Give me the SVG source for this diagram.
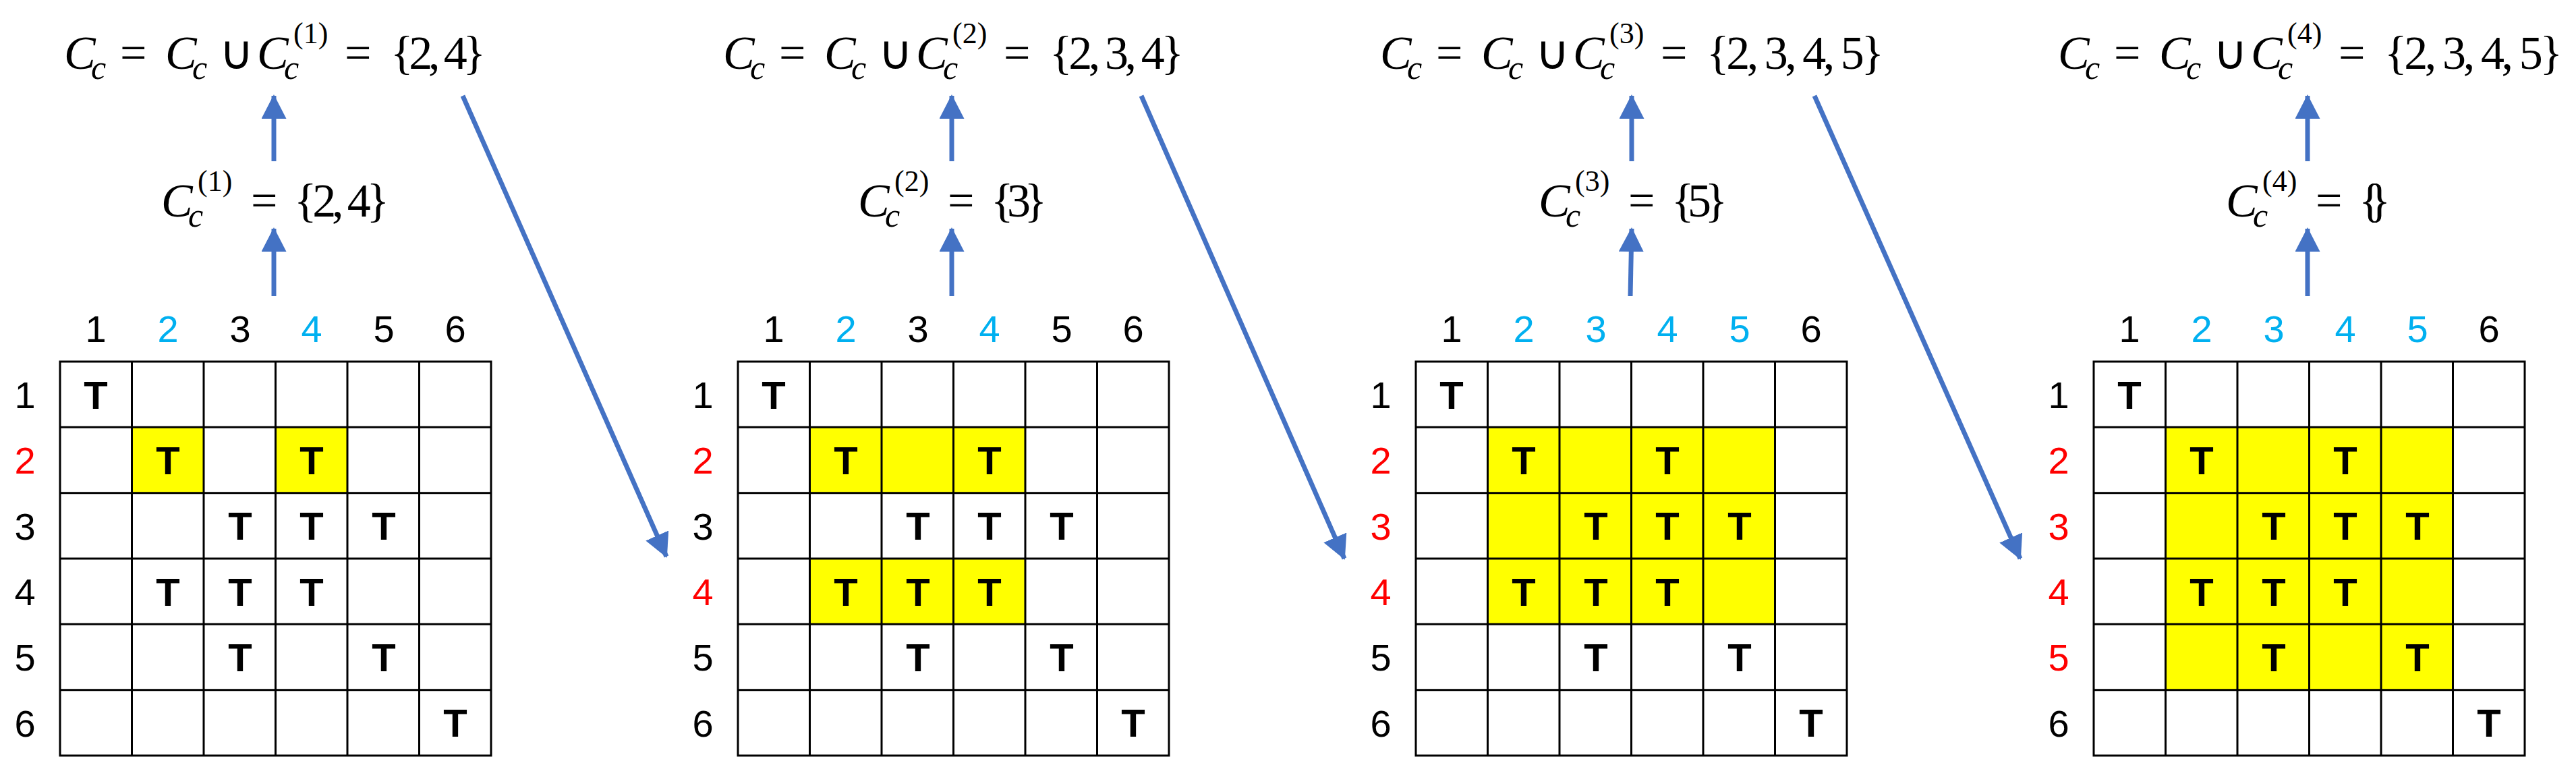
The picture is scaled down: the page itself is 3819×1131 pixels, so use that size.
<svg xmlns="http://www.w3.org/2000/svg" width="3819" height="1131" viewBox="0 0 3819 1131">
<style>
.m{font-family:"Liberation Serif",serif;font-size:70px;fill:#000}
.i{font-style:italic}
.sb{font-size:50px}
.sp{font-size:44px}
.n{font-family:"Liberation Sans",Arial,sans-serif;font-size:56px;text-anchor:middle;fill:#000}
.b{fill:#00B0F0}.r{fill:#FF0000}
.t{font-family:"Liberation Sans",Arial,sans-serif;font-size:58px;font-weight:bold;text-anchor:middle;fill:#000}
.y{fill:#FFFF00}
.g{fill:none;stroke:#000;stroke-width:3}
.a{stroke:#4472C4;stroke-width:7;fill:none}
</style>
<defs>
<marker id="h" viewBox="0 0 36 37" refX="34" refY="18.5" markerWidth="36" markerHeight="37" markerUnits="userSpaceOnUse" orient="auto"><path d="M0,0 L36,18.5 L0,37 Z" fill="#4472C4"/></marker>
<g id="grid">
<path class="g" d="M89,536H728V1120H89Z M195.5,536V1120 M302,536V1120 M408.5,536V1120 M515,536V1120 M621.5,536V1120 M89,633.3H728 M89,730.7H728 M89,828H728 M89,925.3H728 M89,1022.7H728"/>
</g>
<g id="ts">
<text class="t" x="142" y="606">T</text>
<text class="t" x="249" y="703">T</text><text class="t" x="462" y="703">T</text>
<text class="t" x="356" y="800">T</text><text class="t" x="462" y="800">T</text><text class="t" x="569" y="800">T</text>
<text class="t" x="249" y="898">T</text><text class="t" x="356" y="898">T</text><text class="t" x="462" y="898">T</text>
<text class="t" x="356" y="995">T</text><text class="t" x="569" y="995">T</text>
<text class="t" x="675" y="1092">T</text>
</g>
</defs>

<g id="panel1">
<rect class="y" x="195.5" y="633.3" width="106.5" height="97.4"/>
<rect class="y" x="408.5" y="633.3" width="106.5" height="97.4"/>
<use href="#grid"/><use href="#ts"/>
<text class="n" x="142" y="507">1</text><text class="n b" x="249" y="507">2</text><text class="n" x="356" y="507">3</text><text class="n b" x="462" y="507">4</text><text class="n" x="569" y="507">5</text><text class="n" x="675" y="507">6</text>
<text class="n" x="37" y="605">1</text><text class="n r" x="37" y="702">2</text><text class="n" x="37" y="800">3</text><text class="n" x="37" y="897">4</text><text class="n" x="37" y="994">5</text><text class="n" x="37" y="1092">6</text>
<g transform="translate(95,0)">
<text class="m i" x="0" y="102">C</text><text class="m i sb" x="40" y="117">c</text><text class="m" x="83" y="102">=</text><text class="m i" x="150" y="102">C</text><text class="m i sb" x="190" y="117">c</text><text class="m" x="230" y="102">∪</text><text class="m i" x="286" y="102">C</text><text class="m i sb" x="326" y="117">c</text><text class="m sp" x="340" y="64">(1)</text><text class="m" x="416" y="102">=</text><text class="m" x="484" y="102" textLength="141">{2, 4}</text>
</g>
<g transform="translate(239,0)">
<text class="m i" x="0" y="321">C</text><text class="m i sb" x="40" y="336">c</text><text class="m sp" x="54" y="283">(1)</text><text class="m" x="133" y="321">=</text><text class="m" x="197" y="321" textLength="141">{2, 4}</text>
</g>
</g>

<g id="panel2" transform="translate(1005,0)">
<rect class="y" x="195.5" y="633.3" width="319.5" height="97.4"/>
<rect class="y" x="195.5" y="828" width="319.5" height="97.3"/>
<use href="#grid"/><use href="#ts"/>
<text class="n" x="142" y="507">1</text><text class="n b" x="249" y="507">2</text><text class="n" x="356" y="507">3</text><text class="n b" x="462" y="507">4</text><text class="n" x="569" y="507">5</text><text class="n" x="675" y="507">6</text>
<text class="n" x="37" y="605">1</text><text class="n r" x="37" y="702">2</text><text class="n" x="37" y="800">3</text><text class="n r" x="37" y="897">4</text><text class="n" x="37" y="994">5</text><text class="n" x="37" y="1092">6</text>
<g transform="translate(67,0)">
<text class="m i" x="0" y="102">C</text><text class="m i sb" x="40" y="117">c</text><text class="m" x="83" y="102">=</text><text class="m i" x="150" y="102">C</text><text class="m i sb" x="190" y="117">c</text><text class="m" x="230" y="102">∪</text><text class="m i" x="286" y="102">C</text><text class="m i sb" x="326" y="117">c</text><text class="m sp" x="340" y="64">(2)</text><text class="m" x="416" y="102">=</text><text class="m" x="484" y="102" textLength="199">{2, 3, 4}</text>
</g>
<g transform="translate(267,0)">
<text class="m i" x="0" y="321">C</text><text class="m i sb" x="40" y="336">c</text><text class="m sp" x="54" y="283">(2)</text><text class="m" x="133" y="321">=</text><text class="m" x="197" y="321" textLength="83">{3}</text>
</g>
</g>

<g id="panel3" transform="translate(2010,0)">
<rect class="y" x="195.5" y="633.3" width="426" height="292"/>
<use href="#grid"/><use href="#ts"/>
<text class="n" x="142" y="507">1</text><text class="n b" x="249" y="507">2</text><text class="n b" x="356" y="507">3</text><text class="n b" x="462" y="507">4</text><text class="n b" x="569" y="507">5</text><text class="n" x="675" y="507">6</text>
<text class="n" x="37" y="605">1</text><text class="n r" x="37" y="702">2</text><text class="n r" x="37" y="800">3</text><text class="n r" x="37" y="897">4</text><text class="n" x="37" y="994">5</text><text class="n" x="37" y="1092">6</text>
<g transform="translate(36,0)">
<text class="m i" x="0" y="102">C</text><text class="m i sb" x="40" y="117">c</text><text class="m" x="83" y="102">=</text><text class="m i" x="150" y="102">C</text><text class="m i sb" x="190" y="117">c</text><text class="m" x="230" y="102">∪</text><text class="m i" x="286" y="102">C</text><text class="m i sb" x="326" y="117">c</text><text class="m sp" x="340" y="64">(3)</text><text class="m" x="416" y="102">=</text><text class="m" x="484" y="102" textLength="263">{2, 3, 4, 5}</text>
</g>
<g transform="translate(271,0)">
<text class="m i" x="0" y="321">C</text><text class="m i sb" x="40" y="336">c</text><text class="m sp" x="54" y="283">(3)</text><text class="m" x="133" y="321">=</text><text class="m" x="197" y="321" textLength="83">{5}</text>
</g>
</g>

<g id="panel4" transform="translate(3015,0)">
<rect class="y" x="195.5" y="633.3" width="426" height="389.4"/>
<use href="#grid"/><use href="#ts"/>
<text class="n" x="142" y="507">1</text><text class="n b" x="249" y="507">2</text><text class="n b" x="356" y="507">3</text><text class="n b" x="462" y="507">4</text><text class="n b" x="569" y="507">5</text><text class="n" x="675" y="507">6</text>
<text class="n" x="37" y="605">1</text><text class="n r" x="37" y="702">2</text><text class="n r" x="37" y="800">3</text><text class="n r" x="37" y="897">4</text><text class="n r" x="37" y="994">5</text><text class="n" x="37" y="1092">6</text>
<g transform="translate(36,0)">
<text class="m i" x="0" y="102">C</text><text class="m i sb" x="40" y="117">c</text><text class="m" x="83" y="102">=</text><text class="m i" x="150" y="102">C</text><text class="m i sb" x="190" y="117">c</text><text class="m" x="230" y="102">∪</text><text class="m i" x="286" y="102">C</text><text class="m i sb" x="326" y="117">c</text><text class="m sp" x="340" y="64">(4)</text><text class="m" x="416" y="102">=</text><text class="m" x="484" y="102" textLength="264">{2, 3, 4, 5}</text>
</g>
<g transform="translate(285,0)">
<text class="m i" x="0" y="321">C</text><text class="m i sb" x="40" y="336">c</text><text class="m sp" x="54" y="283">(4)</text><text class="m" x="133" y="321">=</text><text class="m" x="197" y="321" textLength="47">{}</text>
</g>
</g>

<g id="connectors">
<line class="a" x1="406" y1="239" x2="406" y2="142" marker-end="url(#h)"/>
<line class="a" x1="406" y1="439" x2="406" y2="339" marker-end="url(#h)"/>
<line class="a" x1="1411" y1="239" x2="1411" y2="142" marker-end="url(#h)"/>
<line class="a" x1="1411" y1="439" x2="1411" y2="339" marker-end="url(#h)"/>
<line class="a" x1="2419" y1="239" x2="2419" y2="142" marker-end="url(#h)"/>
<line class="a" x1="2417" y1="439" x2="2419" y2="339" marker-end="url(#h)"/>
<line class="a" x1="3421" y1="239" x2="3421" y2="142" marker-end="url(#h)"/>
<line class="a" x1="3421" y1="439" x2="3421" y2="339" marker-end="url(#h)"/>
<line class="a" x1="686" y1="142" x2="988" y2="825" marker-end="url(#h)"/>
<line class="a" x1="1692" y1="142" x2="1993" y2="828" marker-end="url(#h)"/>
<line class="a" x1="2690" y1="142" x2="2995" y2="828" marker-end="url(#h)"/>
</g>
</svg>
